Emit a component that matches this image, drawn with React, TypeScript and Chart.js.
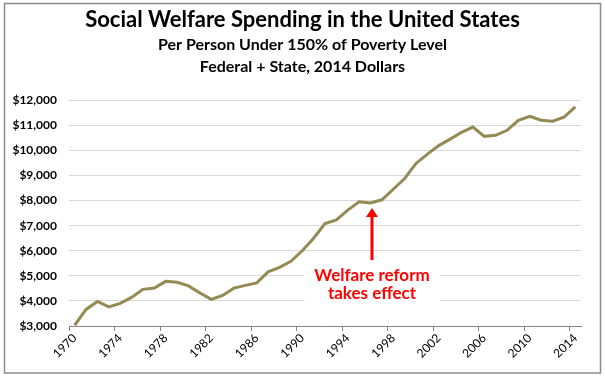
import React, { useEffect, useRef } from "react";
import { Chart, registerables } from "chart.js";

Chart.register(...registerables);

const YEARS: string[] = [
  "1970", "1971", "1972", "1973", "1974", "1975", "1976", "1977", "1978", "1979",
  "1980", "1981", "1982", "1983", "1984", "1985", "1986", "1987", "1988", "1989",
  "1990", "1991", "1992", "1993", "1994", "1995", "1996", "1997", "1998", "1999",
  "2000", "2001", "2002", "2003", "2004", "2005", "2006", "2007", "2008", "2009",
  "2010", "2011", "2012", "2013", "2014",
];

const SPENDING: number[] = [
  3030, 3660, 3980, 3760, 3900, 4140, 4460, 4510, 4780, 4740,
  4600, 4320, 4060, 4220, 4510, 4620, 4720, 5160, 5340, 5580,
  6000, 6500, 7080, 7230, 7620, 7950, 7900, 8030, 8450, 8880,
  9480, 9850, 10190, 10450, 10720, 10930, 10560, 10600, 10800, 11200,
  11360, 11200, 11160, 11320, 11730,
];

const TITLE = "Social Welfare Spending in the United States";
const SUBTITLE_LINES = ["Per Person Under 150% of Poverty Level", "Federal + State, 2014 Dollars"];
const Y_MIN = 3000;
const Y_MAX = 12000;
const Y_STEP = 1000;
const LABEL_EVERY = 4;
const ANNOTATION_YEAR = "1996";
const ANNOTATION_LINES = ["Welfare reform", "takes effect"];

const FONT = "Lato, 'Open Sans', sans-serif";

const frame = {
  id: "frame",
  afterDraw(chart: any) {
    const ctx = chart.ctx;
    ctx.save();
    ctx.strokeStyle = "#8c8c8c";
    ctx.lineWidth = 1.5;
    ctx.strokeRect(4.5, 3.5, 596, 369.5);
    ctx.restore();
  },
};

const annotation = {
  id: "reformNote",
  afterDatasetsDraw(chart: any) {
    const ctx = chart.ctx;
    const xs = chart.scales.x;
    const ys = chart.scales.y;
    const idx = YEARS.indexOf(ANNOTATION_YEAR);
    const x = xs.getPixelForValue(idx) + 1.5;
    const tipY = ys.getPixelForValue(SPENDING[idx]) + 5;
    const baseY = tipY + 52;
    ctx.save();
    ctx.font = `bold 17px ${FONT}`;
    const w = Math.max(...ANNOTATION_LINES.map((l) => ctx.measureText(l).width));
    const textTop = baseY + 3;
    ctx.fillStyle = "#ffffff";
    ctx.fillRect(x - w / 2 - 10, textTop, w + 20, 42);
    ctx.strokeStyle = "#ff0000";
    ctx.fillStyle = "#ff0000";
    ctx.lineWidth = 3;
    ctx.beginPath();
    ctx.moveTo(x, baseY);
    ctx.lineTo(x, tipY + 6);
    ctx.stroke();
    ctx.beginPath();
    ctx.moveTo(x, tipY);
    ctx.lineTo(x - 6, tipY + 9);
    ctx.lineTo(x + 6, tipY + 9);
    ctx.closePath();
    ctx.fill();
    ctx.textAlign = "center";
    ctx.textBaseline = "middle";
    ANNOTATION_LINES.forEach((line, i) => {
      ctx.fillText(line, x, textTop + 12 + i * 18);
    });
    ctx.restore();
  },
};

export default function App() {
  const ref = useRef<HTMLCanvasElement | null>(null);

  useEffect(() => {
    if (!ref.current) return;
    const chart = new Chart(ref.current, {
      type: "line",
      data: {
        labels: YEARS,
        datasets: [
          {
            data: SPENDING,
            borderColor: "#948a54",
            borderWidth: 3,
            pointRadius: 0,
            tension: 0,
            fill: false,
            yAxisID: "y",
          },
        ],
      },
      options: {
        animation: false,
        responsive: false,
        maintainAspectRatio: false,
        layout: { padding: { left: 12, right: 12, top: 0, bottom: 0 } },
        plugins: {
          legend: { display: false },
          tooltip: { enabled: false },
          title: {
            display: true,
            text: TITLE,
            color: "#000000",
            font: { family: FONT, size: 22, weight: "bold", lineHeight: 1.2 },
            padding: { top: 7, bottom: 0 },
          },
          subtitle: {
            display: true,
            text: SUBTITLE_LINES,
            color: "#000000",
            font: { family: FONT, size: 16, weight: "bold", lineHeight: 1.4 },
            padding: { top: 0, bottom: 22 },
          },
        },
        scales: {
          x: {
            type: "category",
            offset: true,
            grid: {
              offset: true,
              drawOnChartArea: false,
              drawTicks: true,
              tickLength: 5,
              color: (c: any) => (c.index % LABEL_EVERY === 0 && c.index < YEARS.length ? "#868686" : "rgba(0,0,0,0)"),
            },
            border: { display: true, color: "#868686", width: 1 },
            ticks: {
              autoSkip: false,
              maxRotation: 45,
              minRotation: 45,
              color: "#000000",
              font: { family: FONT, size: 12 },
              padding: 0,
              callback: (_v: any, i: number) => (i % LABEL_EVERY === 0 ? YEARS[i] : ""),
            },
            afterFit: (s: any) => {
              s.height = 51;
            },
          },
          y: {
            min: Y_MIN,
            max: Y_MAX,
            grid: { color: "#d9d9d9", drawTicks: false },
            border: { display: false },
            ticks: {
              stepSize: Y_STEP,
              color: "#000000",
              padding: 12,
              font: { family: FONT, size: 12, weight: "bold" },
              callback: (v: any) => "$" + Number(v).toLocaleString("en-US"),
            },
            afterFit: (s: any) => {
              s.width = 57;
            },
          },
          yRight: {
            type: "linear",
            position: "right",
            display: true,
            min: Y_MIN,
            max: Y_MAX,
            grid: { display: false, drawTicks: false },
            border: { display: false },
            ticks: { display: false },
            afterFit: (s: any) => {
              s.width = 12;
            },
          },
        },
      },
      plugins: [frame, annotation],
    });
    return () => chart.destroy();
  }, []);

  return (
    <div style={{ position: "fixed", left: 0, top: 0, width: 605, height: 377, background: "#ffffff" }}>
      <canvas ref={ref} width={605} height={377} style={{ width: 605, height: 377, display: "block" }} />
    </div>
  );
}
